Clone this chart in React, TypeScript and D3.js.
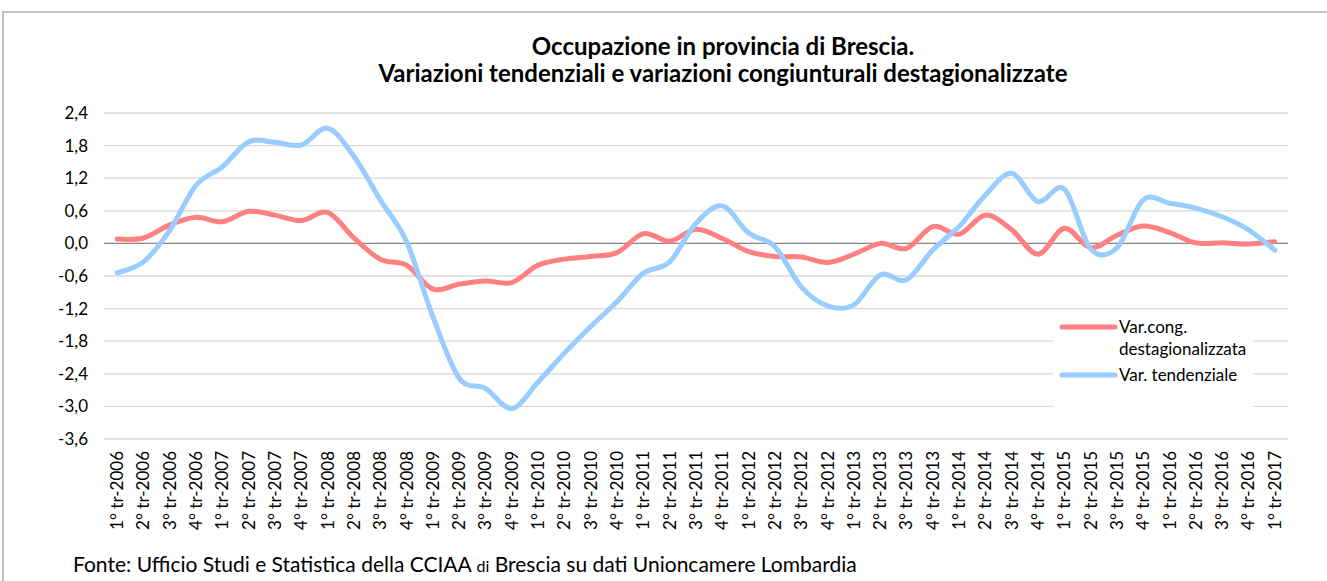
import React from "react";
import * as d3 from "d3";

const categories = [
  "1° tr-2006", "2° tr-2006", "3° tr-2006", "4° tr-2006",
  "1° tr-2007", "2° tr-2007", "3° tr-2007", "4° tr-2007",
  "1° tr-2008", "2° tr-2008", "3° tr-2008", "4° tr-2008",
  "1° tr-2009", "2° tr-2009", "3° tr-2009", "4° tr-2009",
  "1° tr-2010", "2° tr-2010", "3° tr-2010", "4° tr-2010",
  "1° tr-2011", "2° tr-2011", "3° tr-2011", "4° tr-2011",
  "1° tr-2012", "2° tr-2012", "3° tr-2012", "4° tr-2012",
  "1° tr-2013", "2° tr-2013", "3° tr-2013", "4° tr-2013",
  "1° tr-2014", "2° tr-2014", "3° tr-2014", "4° tr-2014",
  "1° tr-2015", "2° tr-2015", "3° tr-2015", "4° tr-2015",
  "1° tr-2016", "2° tr-2016", "3° tr-2016", "4° tr-2016",
  "1° tr-2017",
];

const varCong = [
  0.08, 0.10, 0.34, 0.48, 0.40, 0.59, 0.52, 0.42, 0.57, 0.10,
  -0.29, -0.40, -0.84, -0.75, -0.69, -0.72, -0.40, -0.29, -0.24, -0.17,
  0.18, 0.04, 0.26, 0.09, -0.15, -0.24, -0.25, -0.35, -0.20, 0.00,
  -0.09, 0.31, 0.17, 0.52, 0.25, -0.20, 0.28, -0.08, 0.15, 0.32,
  0.20, 0.01, 0.01, -0.01, 0.03,
];

const varTend = [
  -0.54, -0.34, 0.24, 1.07, 1.41, 1.87, 1.86, 1.81, 2.12, 1.60,
  0.80, 0.03, -1.35, -2.48, -2.67, -3.04, -2.55, -2.02, -1.53, -1.07,
  -0.55, -0.34, 0.37, 0.69, 0.19, -0.06, -0.80, -1.15, -1.13, -0.58,
  -0.67, -0.12, 0.31, 0.89, 1.29, 0.77, 1.00, -0.10, -0.08, 0.80,
  0.74, 0.65, 0.49, 0.25, -0.13,
];

const yTicks = [-3.6, -3.0, -2.4, -1.8, -1.2, -0.6, 0.0, 0.6, 1.2, 1.8, 2.4];

const seriesNames = ["Var.cong. destagionalizzata", "Var. tendenziale"];
const colors = ["#ff8080", "#99ccff"];

const W = 1327;
const H = 581;
const FONT = "Lato, 'Open Sans', sans-serif";

export default function App() {
  const x = d3.scaleBand<string>().domain(categories).range([104, 1288]).padding(0);
  const cx = (c: string) => (x(c) as number) + x.bandwidth() / 2;
  const y = d3.scaleLinear().domain([-3.6, 2.4]).range([439, 113]);
  const fmt = (v: number) => d3.format(".1f")(v).replace("−", "-").replace(".", ",");

  const line = d3
    .line<number>()
    .x((_, i) => cx(categories[i]))
    .y((d) => y(d))
    .curve(d3.curveCardinal.tension(0));

  const series = [varCong, varTend];

  return (
    <div style={{ position: "absolute", left: 0, top: 0 }}>
      <svg width={W} height={H} style={{ display: "block", background: "#fff" }} fontFamily={FONT}>
        <rect x={3} y={12} width={W + 10} height={H + 10} fill="#fff" stroke="#c0c0c0" strokeWidth={2} />
        <text x={723} y={55} textAnchor="middle" fontWeight="bold" fontSize={24} fill="#000">
          Occupazione in provincia di Brescia.
        </text>
        <text x={723} y={82} textAnchor="middle" fontWeight="bold" fontSize={24} fill="#000">
          Variazioni tendenziali e variazioni congiunturali destagionalizzate
        </text>

        {yTicks.map((t) => (
          <g key={t}>
            <line
              x1={104}
              x2={1288}
              y1={y(t)}
              y2={y(t)}
              stroke={t === 0 ? "#868686" : "#d9d9d9"}
              strokeWidth={1.3}
            />
            <text x={88} y={y(t)} dy="0.35em" textAnchor="end" fontSize={17} fill="#000">
              {fmt(t)}
            </text>
          </g>
        ))}

        {categories.map((c) => (
          <text
            key={c}
            transform={`translate(${cx(c)},${451}) rotate(-90)`}
            dy="0.35em"
            textAnchor="end"
            fontSize={17}
            fill="#000"
          >
            {c}
          </text>
        ))}

        {series.map((s, k) => (
          <path
            key={k}
            d={line(s) || ""}
            fill="none"
            stroke={colors[k]}
            strokeWidth={5}
            strokeLinecap="round"
            strokeLinejoin="round"
          />
        ))}

        <g>
          <rect x={1053} y={310} width={200} height={97} fill="#fff" />
          <line x1={1062} x2={1115} y1={327} y2={327} stroke={colors[0]} strokeWidth={5} strokeLinecap="round" />
          <text x={1119} y={327} dy="0.35em" fontSize={17} fill="#000">Var.cong.</text>
          <text x={1119} y={349} dy="0.35em" fontSize={17} fill="#000">destagionalizzata</text>
          <line x1={1062} x2={1115} y1={375} y2={375} stroke={colors[1]} strokeWidth={5} strokeLinecap="round" />
          <text x={1119} y={375} dy="0.35em" fontSize={17} fill="#000">{seriesNames[1]}</text>
        </g>

        <text x={73} y={572} fontSize={21} fill="#000">
          Fonte: Ufficio Studi e Statistica della CCIAA <tspan fontSize={16}>di</tspan> Brescia su dati Unioncamere Lombardia
        </text>
      </svg>
    </div>
  );
}
